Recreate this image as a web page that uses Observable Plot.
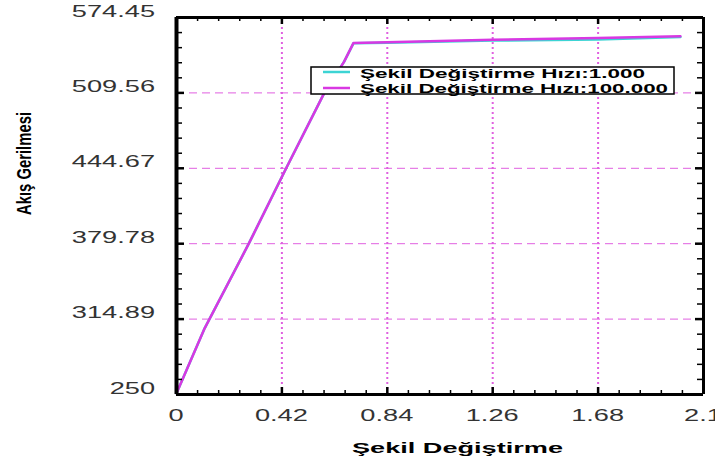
<!DOCTYPE html>
<html>
<head>
<meta charset="utf-8">
<script src="https://cdn.jsdelivr.net/npm/d3@7"></script>
<script src="https://cdn.jsdelivr.net/npm/@observablehq/plot@0.6"></script>
<style>
  html, body { margin: 0; padding: 0; background: #fff; overflow: hidden; }
  #chart { width: 715px; height: 459px; }
</style>
</head>
<body>
<div id="chart"></div>
<script>
// ---- data ----
const xMajor = [0, 0.42, 0.84, 1.26, 1.68, 2.1];
const xTickLabels = ["0", "0.42", "0.84", "1.26", "1.68", "2.1"];
const yMajor = [250, 314.89, 379.78, 444.67, 509.56, 574.45];
const yTickLabels = ["250", "314.89", "379.78", "444.67", "509.56", "574.45"];

const strain        = [0, 0.11, 0.288, 0.437, 0.589, 0.668, 0.705, 0.84, 1.26, 1.68, 2.008];
const stressRate1   = [251, 306, 379.78, 444.67, 509.56, 536.5, 552.2, 552.8, 554.6, 555.5, 557.6];
const stressRate100 = [251, 306, 379.78, 444.67, 509.56, 536.5, 552.4, 553.2, 555.3, 556.8, 558.3];

const seriesNames = ["Şekil Değiştirme Hızı:1.000", "Şekil Değiştirme Hızı:100.000"];
const seriesColors = ["#3cd4d4", "#d838e2"];
const xTitle = "Şekil Değiştirme";
const yTitle = "Akış Gerilmesi";

// ---- build table ----
const rows = [];
[stressRate1, stressRate100].forEach((arr, k) => {
  arr.forEach((v, i) => rows.push({series: seriesNames[k], strain: strain[i], stress: v}));
});

// minor ticks: five subdivisions of each major interval
const xMinor = [], yMinor = [];
for (let i = 0; i < xMajor.length - 1; i++)
  for (let j = 1; j < 5; j++) xMinor.push(xMajor[i] + (xMajor[i + 1] - xMajor[i]) * j / 5);
for (let i = 0; i < yMajor.length - 1; i++)
  for (let j = 1; j < 5; j++) yMinor.push(yMajor[i] + (yMajor[i + 1] - yMajor[i]) * j / 5);

const W = 715, H = 459, mL = 176, mR = 12, mT = 17, mB = 65;
const pw = W - mL - mR, ph = H - mT - mB;
const gridColor = "#e060e0";
const font = "Liberation Sans, Arial, sans-serif";

const svg = Plot.plot({
  width: W, height: H,
  marginLeft: mL, marginRight: mR, marginTop: mT, marginBottom: mB,
  style: {background: "#fff", fontFamily: font},
  x: {domain: [0, 2.1], axis: null},
  y: {domain: [250, 574.45], axis: null},
  color: {domain: seriesNames, range: seriesColors},
  marks: [
    // grid
    Plot.ruleX(xMajor.slice(1, -1), {x: d => d, stroke: gridColor, strokeWidth: 2, strokeDasharray: "2,3"}),
    Plot.ruleY(yMajor.slice(1, -1), {y: d => d, stroke: gridColor, strokeWidth: 1, strokeDasharray: "8,5"}),
    // data
    Plot.line(rows.filter(d => d.series === seriesNames[0]), {x: "strain", y: "stress", stroke: "series", strokeWidth: 2.5}),
    Plot.line(rows.filter(d => d.series === seriesNames[1]), {x: "strain", y: "stress", stroke: "series", strokeWidth: 2.5}),
    // inward ticks: bottom / top
    Plot.ruleX(xMinor, {x: d => d, stroke: "#000", strokeWidth: 1.5, insetTop: ph - 4}),
    Plot.ruleX(xMajor, {x: d => d, stroke: "#000", strokeWidth: 2.5, insetTop: ph - 7}),
    Plot.ruleX(xMinor, {x: d => d, stroke: "#000", strokeWidth: 1.5, insetBottom: ph - 4}),
    Plot.ruleX(xMajor, {x: d => d, stroke: "#000", strokeWidth: 2.5, insetBottom: ph - 7}),
    // inward ticks: left / right
    Plot.ruleY(yMinor, {y: d => d, stroke: "#000", strokeWidth: 1.5, insetRight: pw - 6}),
    Plot.ruleY(yMajor, {y: d => d, stroke: "#000", strokeWidth: 2.5, insetRight: pw - 8}),
    Plot.ruleY(yMinor, {y: d => d, stroke: "#000", strokeWidth: 1.5, insetLeft: pw - 6}),
    Plot.ruleY(yMajor, {y: d => d, stroke: "#000", strokeWidth: 2.5, insetLeft: pw - 8}),
    // frame
    Plot.ruleX([0], {x: d => d, stroke: "#000", strokeWidth: 4}),
    Plot.ruleX([2.1], {x: d => d, stroke: "#000", strokeWidth: 3}),
    Plot.ruleY([250], {y: d => d, stroke: "#000", strokeWidth: 3}),
    Plot.ruleY([574.45], {y: d => d, stroke: "#000", strokeWidth: 3})
  ]
});

const s = d3.select(svg);
const sx = svg.scale("x"), sy = svg.scale("y");

// tick labels (horizontally stretched lettering, as in the reference)
xMajor.forEach((v, i) => {
  s.append("text")
    .attr("transform", `translate(${sx.apply(v)},${sy.apply(250) + 21}) scale(1.7,1)`)
    .attr("text-anchor", "middle").attr("dy", "0.35em")
    .attr("font-family", font).attr("font-size", 16).attr("fill", "#333")
    .text(xTickLabels[i]);
});
yMajor.forEach((v, i) => {
  s.append("text")
    .attr("transform", `translate(${sx.apply(0) - 21},${sy.apply(v) - 6}) scale(1.7,1)`)
    .attr("text-anchor", "end").attr("dy", "0.35em")
    .attr("font-family", font).attr("font-size", 16).attr("fill", "#333")
    .text(yTickLabels[i]);
});

// axis titles
s.append("text")
  .attr("transform", "translate(31,215) rotate(-90) scale(1,1.4)")
  .attr("text-anchor", "start")
  .attr("font-family", font).attr("font-weight", "bold").attr("font-size", 15)
  .attr("fill", "#000")
  .attr("textLength", 103).attr("lengthAdjust", "spacingAndGlyphs")
  .text(yTitle);
s.append("text")
  .attr("x", 352).attr("y", 453)
  .attr("text-anchor", "start")
  .attr("font-family", font).attr("font-weight", "bold").attr("font-size", 14.5)
  .attr("fill", "#000")
  .attr("textLength", 211).attr("lengthAdjust", "spacingAndGlyphs")
  .text(xTitle);

// legend
const lg = s.append("g");
lg.append("rect").attr("x", 311).attr("y", 67).attr("width", 363).attr("height", 27)
  .attr("fill", "#fff").attr("stroke", "#000").attr("stroke-width", 1.5);
const legendY = [72, 88], legendBase = [77.5, 92.5], legendLen = [285, 308];
seriesNames.forEach((name, i) => {
  lg.append("line").attr("x1", 323).attr("x2", 350).attr("y1", legendY[i]).attr("y2", legendY[i])
    .attr("stroke", seriesColors[i]).attr("stroke-width", 2.5);
  lg.append("text").attr("x", 360).attr("y", legendBase[i])
    .attr("text-anchor", "start")
    .attr("font-family", font).attr("font-weight", "bold").attr("font-size", 12.5)
    .attr("fill", "#000")
    .attr("textLength", legendLen[i]).attr("lengthAdjust", "spacingAndGlyphs")
    .text(name);
});

document.getElementById("chart").appendChild(svg);
</script>
</body>
</html>
